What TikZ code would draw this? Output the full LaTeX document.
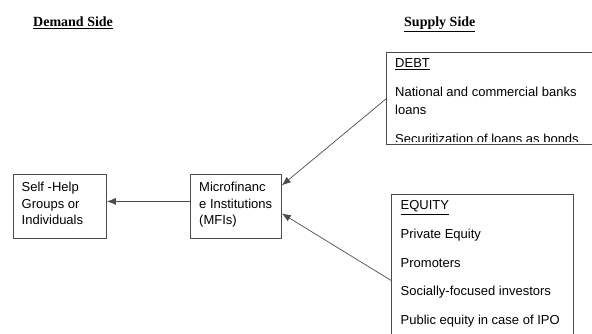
\documentclass[tikz,border=0pt]{standalone}
\usepackage{fontspec}
\setmainfont{Liberation Sans}
\newfontfamily\headfont{Liberation Serif}
\usetikzlibrary{arrows.meta}
\tikzset{bx/.style = {rectangle, draw=black!70, line width=0.8pt, inner sep=0pt, anchor=north west},
           tx/.style = {inner sep=0pt, anchor=base west, font=\fontsize{13}{15}\selectfont},
           hd/.style = {inner sep=0pt, anchor=base west, font=\headfont\bfseries\fontsize{14}{16}\selectfont},
           ar/.style = {draw=black!70, line width=0.7pt, -{Latex[length=9pt, width=7pt]}}}

\begin{document}
\begin{tikzpicture}[x=1pt, y=-1pt]
    \clip (0,0) rectangle (592,334);
    \node[hd] (dem) at (33,27) {\underline{Demand Side}};
    \node[hd] (sup) at (404,27) {\underline{Supply Side}};
    % boxes
    \node[bx, minimum width=93.5pt, minimum height=64pt] (self) at (12.5,174) {};
    \node[bx, minimum width=91.5pt, minimum height=64pt] (mfi) at (189.5,174) {};
    \node[bx, minimum width=240pt, minimum height=92pt] (debt) at (386,52.5) {};
    \node[bx, minimum width=182pt, minimum height=172pt] (equity) at (391,194) {};
    % texts
    \node[tx] (s1) at (21.5,191) {Self -Help};
    \node[tx] (s2) at (21.5,208) {Groups or};
    \node[tx] (s3) at (21.5,225) {Individuals};
    \node[tx] (m1) at (199,191) {Microfinanc};
    \node[tx] (m2) at (199,208) {e Institutions};
    \node[tx] (m3) at (199,225) {(MFIs)};
    \node[tx] (d1) at (395,68) {\underline{DEBT}};
    \node[tx] (d2) at (395,97) {National and commercial banks};
    \node[tx] (d3) at (395,115) {loans};
    \begin{scope}
      \clip (386,52) rectangle (600,141.5);
      \node[tx] (d4) at (395,144) {Securitization of loans as bonds};
    \end{scope}
    \node[tx] (e1) at (400.5,210) {\underline{EQUITY}};
    \node[tx] (e2) at (400.5,238.5) {Private Equity};
    \node[tx] (e3) at (400.5,267) {Promoters};
    \node[tx] (e4) at (400.5,295.5) {Socially-focused investors};
    \node[tx] (e5) at (400.5,324) {Public equity in case of IPO};
    % connectors
    \draw[ar] ([yshift=5pt]mfi.west) -- ([yshift=5pt]self.east);
    \draw[ar] (debt.west) -- ([yshift=21pt]mfi.east);
    \draw[ar] (equity.west) -- ([yshift=-7pt]mfi.east);
\end{tikzpicture}
\end{document}
